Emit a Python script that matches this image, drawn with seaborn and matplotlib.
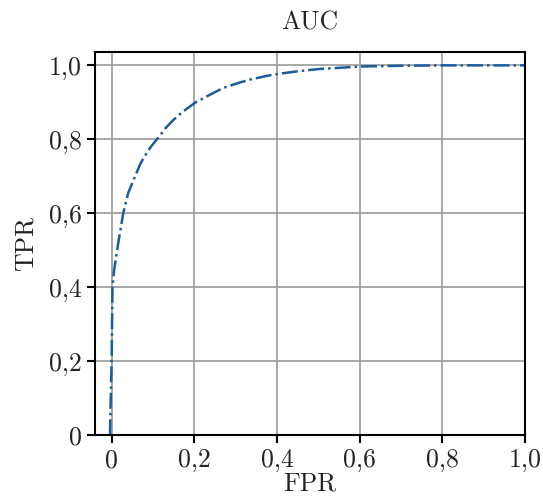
import matplotlib
matplotlib.use("Agg")
import matplotlib.pyplot as plt
from matplotlib.ticker import FuncFormatter
import seaborn as sns
import pandas as pd

# ROC curve points
fpr = [-0.004, -0.003, 0.0, 0.002, 0.006, 0.016, 0.028, 0.04, 0.053, 0.069,
       0.08, 0.095, 0.118, 0.13, 0.149, 0.17, 0.203, 0.247, 0.27, 0.308,
       0.336, 0.377, 0.41, 0.45, 0.5, 0.53, 0.604, 0.7, 0.8, 1.0]
tpr = [0.0, 0.06, 0.204, 0.402, 0.447, 0.52, 0.60, 0.655, 0.69, 0.733,
       0.755, 0.78, 0.812, 0.83, 0.852, 0.873, 0.9, 0.926, 0.939, 0.953,
       0.962, 0.972, 0.978, 0.984, 0.99, 0.992, 0.997, 0.999, 1.0, 1.0]
ticks = [0, 0.2, 0.4, 0.6, 0.8, 1.0]

df = pd.DataFrame({'FPR': fpr, 'TPR': tpr})

sns.set_theme(style="whitegrid")
plt.rcParams['font.family'] = ['serif']
plt.rcParams['font.serif'] = ['cmr10']
plt.rcParams['mathtext.fontset'] = 'cm'
plt.rcParams['axes.formatter.use_mathtext'] = True

fig, ax = plt.subplots(figsize=(5.43, 4.96), dpi=100)
fig.subplots_adjust(left=0.1744, right=0.9669, bottom=0.1224, top=0.8958)

sns.lineplot(x='FPR', y='TPR', data=df, ax=ax, estimator=None, sort=False,
             color='#1a5c9c', linewidth=1.8, linestyle='-.')

ax.set_xlim(-0.041, 1.0)
ax.set_ylim(0, 1.037)
ax.set_xticks(ticks)
ax.set_yticks(ticks)

def comma_fmt(v, pos):
    if abs(v) < 1e-9:
        return '0'
    return f"{v:.1f}".replace('.', ',')

ax.xaxis.set_major_formatter(FuncFormatter(comma_fmt))
ax.yaxis.set_major_formatter(FuncFormatter(comma_fmt))

ax.grid(True, color='#9a9a9a', linewidth=1.2)
ax.set_facecolor('white')
for s in ax.spines.values():
    s.set_color('black')
    s.set_linewidth(1.5)

ax.tick_params(axis='both', which='major', direction='out', length=6, width=1.5,
               color='black', labelsize=18.5, labelcolor='#222222', pad=3.5,
               bottom=True, left=True)

ax.set_title('AUC', fontsize=18.5, color='#222222', pad=16)
ax.set_xlabel('FPR', fontsize=18.5, color='#222222', labelpad=0)
ax.set_ylabel('TPR', fontsize=18.5, color='#222222', labelpad=8)

fig.savefig('out.png', dpi=100)
